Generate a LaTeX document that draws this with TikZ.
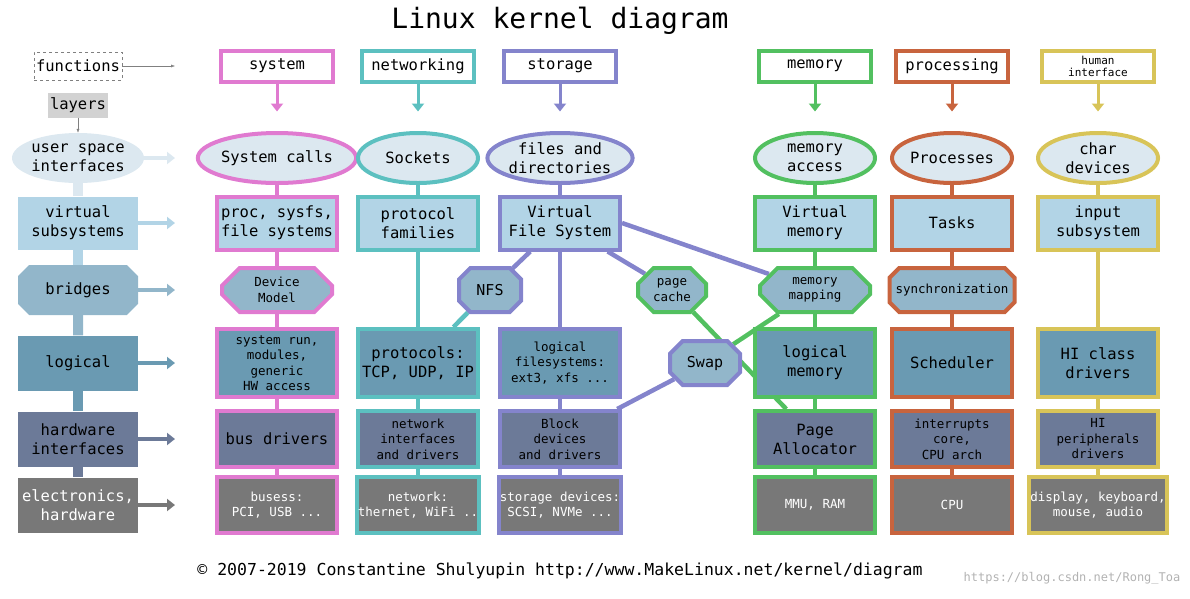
\documentclass[tikz,border=0pt]{standalone}
\usepackage{fontspec}
\setmainfont{DejaVu Sans Mono}
\usetikzlibrary{arrows.meta, positioning, shapes.geometric, shapes.misc, backgrounds}
\definecolor{cSys}{HTML}{E07AD0}
\definecolor{cNet}{HTML}{5CC0C0}
\definecolor{cSto}{HTML}{8484CC}
\definecolor{cMem}{HTML}{52C060}
\definecolor{cPro}{HTML}{C8643E}
\definecolor{cHum}{HTML}{D8C458}
\definecolor{fUsr}{HTML}{DCE8F0}
\definecolor{fVir}{HTML}{B2D4E6}
\definecolor{fBri}{HTML}{92B6CA}
\definecolor{fLog}{HTML}{6A9AB2}
\definecolor{fHw}{HTML}{6C7A98}
\definecolor{fEl}{HTML}{787878}
\begin{document}
\begin{tikzpicture}[x=1pt, y=-1pt,
  font=\fontsize{15.5}{19}\selectfont,
  small/.style={font=\fontsize{12.5}{15.5}\selectfont},
  func/.style={draw=#1, fill=white, line width=4pt, minimum width=112pt, minimum height=31pt, align=center},
  usr/.style={draw=#1, ellipse, fill=fUsr, line width=4pt, minimum width=120pt, minimum height=50pt, inner sep=0pt, align=center},
  vir/.style={draw=#1, fill=fVir, line width=4pt, minimum width=120pt, minimum height=53pt, align=center, inner sep=1pt},
  bri/.style={draw=#1, chamfered rectangle, chamfered rectangle xsep=14pt, fill=fBri, line width=4pt, minimum height=44pt, align=center, inner sep=2pt, small},
  logi/.style={draw=#1, fill=fLog, line width=4pt, minimum width=120pt, minimum height=68pt, align=center, inner sep=1pt},
  hw/.style={draw=#1, fill=fHw, line width=4pt, minimum width=120pt, minimum height=56pt, align=center, inner sep=1pt},
  el/.style={draw=#1, fill=fEl, text=white, line width=4pt, minimum width=120pt, minimum height=56pt, align=center, inner sep=1pt, small},
  lay/.style={minimum width=120pt, align=center, inner sep=0pt},
  link/.style={line width=4.5pt},
  down/.style={line width=3pt, -{Triangle[length=8pt, width=12pt]}},
  side/.style={line width=4pt, -{Triangle[length=8pt, width=12pt]}}
]
\useasboundingbox (0,0) rectangle (1190,598);
\node[font=\fontsize{28}{32}\selectfont] (title) at (560,21) {Linux kernel diagram};
\node[font=\fontsize{16.5}{19}\selectfont] (foot) at (560,571) {© 2007-2019 Constantine Shulyupin http://www.MakeLinux.net/kernel/diagram};
\node[text=gray!60, font=\fontsize{12}{14}\selectfont] (mark) at (1072,578) {https://blog.csdn.net/Rong\_Toa};

% left legend column
\node[draw=gray, dashed, minimum width=88pt, minimum height=28pt, inner sep=0pt] (functions) at (78,66) {functions};
\node[fill=gray!35, minimum width=60pt, minimum height=25pt, inner sep=0pt] (layers) at (78,105) {layers};
\node[lay, ellipse, fill=fUsr, minimum height=50pt] (Lusr) at (78,158) {user space\\interfaces};
\node[lay, fill=fVir, minimum height=53pt] (Lvir) at (78,223) {virtual\\subsystems};
\node[lay, chamfered rectangle, chamfered rectangle xsep=20pt, fill=fBri, minimum height=50pt] (Lbri) at (78,290) {bridges};
\node[lay, fill=fLog, minimum height=55pt] (Llog) at (78,363) {logical};
\node[lay, fill=fHw, minimum height=55pt] (Lhw) at (78,439) {hardware\\interfaces};
\node[lay, fill=fEl, text=white, minimum height=55pt] (Lel) at (78,505) {electronics,\\hardware};
\coordinate (Afun) at (175,66);
\draw[gray, thin, -{Latex[length=4pt]}] (functions) -- (Afun);
\draw[gray, thin, -{Latex[length=4pt]}] (layers) -- (Lusr);
\foreach \n/\c in {Lusr/fUsr, Lvir/fVir, Lbri/fBri, Llog/fLog, Lhw/fHw, Lel/fEl} {
  \coordinate (A\n) at (175,0 |- \n);
  \draw[side, \c] (\n.east |- \n) -- (A\n);
}
\begin{scope}[on background layer]
  \foreach \a/\b/\c in {Lusr/Lvir/fUsr, Lvir/Lbri/fVir, Lbri/Llog/fBri, Llog/Lhw/fLog, Lhw/Lel/fHw}
    \draw[link, \c, line width=10pt] (\a) -- (\b);
\end{scope}

% system
\node[func=cSys] (fSys) at (277,66) {system};
\node[usr=cSys] (callsSys) at (277,158) {System calls};
\node[vir=cSys] (procSys) at (277,223) {proc, sysfs,\\file systems};
\node[bri=cSys, minimum width=110pt] (devSys) at (277,290) {Device\\Model};
\node[logi=cSys, small] (runSys) at (277,363) {system run,\\modules,\\generic\\HW access};
\node[hw=cSys] (busSys) at (277,439) {bus drivers};
\node[el=cSys] (elSys) at (277,505) {busess:\\PCI, USB ...};

% networking
\node[func=cNet] (fNet) at (418,66) {networking};
\node[usr=cNet] (sockNet) at (418,158) {Sockets};
\node[vir=cNet] (famNet) at (418,223) {protocol\\families};
\node[logi=cNet] (protNet) at (418,363) {protocols:\\TCP, UDP, IP};
\node[hw=cNet, small] (ifNet) at (418,439) {network\\interfaces\\and drivers};
\node[el=cNet] (elNet) at (418,505) {network:\\thernet, WiFi ..};

% storage
\node[func=cSto] (fSto) at (560,66) {storage};
\node[usr=cSto] (filesSto) at (560,158) {files and\\directories};
\node[vir=cSto] (vfsSto) at (560,223) {Virtual\\File System};
\node[bri=cSto, minimum width=62pt, font=\fontsize{15}{19}\selectfont] (nfsSto) at (490,290) {NFS};
\node[logi=cSto, small] (lfsSto) at (560,363) {logical\\filesystems:\\ext3, xfs ...};
\node[hw=cSto, small] (blkSto) at (560,439) {Block\\devices\\and drivers};
\node[el=cSto] (elSto) at (560,505) {storage devices:\\SCSI, NVMe ...};
\node[bri=cSto, minimum width=70pt, chamfered rectangle xsep=12pt, font=\fontsize{15}{19}\selectfont] (swapSto) at (705,363) {Swap};

% memory
\node[func=cMem] (fMem) at (815,66) {memory};
\node[usr=cMem] (accMem) at (815,158) {memory\\access};
\node[vir=cMem] (virMem) at (815,223) {Virtual\\memory};
\node[bri=cMem, minimum width=68pt, chamfered rectangle xsep=12pt] (cacheMem) at (672,290) {page\\cache};
\node[bri=cMem, minimum width=110pt] (mapMem) at (815,290) {memory\\mapping};
\node[logi=cMem] (logMem) at (815,363) {logical\\memory};
\node[hw=cMem] (allocMem) at (815,439) {Page\\Allocator};
\node[el=cMem] (elMem) at (815,505) {MMU, RAM};

% processing
\node[func=cPro] (fPro) at (952,66) {processing};
\node[usr=cPro] (procPro) at (952,158) {Processes};
\node[vir=cPro] (taskPro) at (952,223) {Tasks};
\node[bri=cPro, minimum width=110pt, inner sep=0pt] (syncPro) at (952,290) {synchronization};
\node[logi=cPro] (schedPro) at (952,363) {Scheduler};
\node[hw=cPro, small] (irqPro) at (952,439) {interrupts\\core,\\CPU arch};
\node[el=cPro] (elPro) at (952,505) {CPU};

% human interface
\node[func=cHum, font=\fontsize{11}{12}\selectfont] (fHum) at (1098,66) {human\\interface};
\node[usr=cHum] (charHum) at (1098,158) {char\\devices};
\node[vir=cHum] (inHum) at (1098,223) {input\\subsystem};
\node[logi=cHum] (hiHum) at (1098,363) {HI class\\drivers};
\node[hw=cHum, small] (perHum) at (1098,439) {HI\\peripherals\\drivers};
\node[el=cHum] (elHum) at (1098,505) {display, keyboard,\\mouse, audio};

% function arrows
\foreach \f/\c in {fSys/cSys, fNet/cNet, fSto/cSto, fMem/cMem, fPro/cPro, fHum/cHum} {
  \coordinate (A\f) at ([yshift=-28pt]\f.south);
  \draw[down, \c] (\f) -- (A\f);
}

\begin{scope}[on background layer]
  \draw[link, cSys] (callsSys) -- (elSys);
  \draw[link, cNet] (sockNet) -- (elNet);
  \draw[link, cSto] (filesSto) -- (elSto);
  \draw[link, cMem] (accMem) -- (elMem);
  \draw[link, cPro] (procPro) -- (elPro);
  \draw[link, cHum] (charHum) -- (elHum);
  % cross links
  \draw[link, cSto] (vfsSto) -- (nfsSto);
  \draw[link, cNet] (nfsSto) -- (protNet);
  \draw[link, cSto] (vfsSto) -- (cacheMem);
  \draw[link, cSto] (vfsSto.east) -- (mapMem);
  \draw[link, cMem] (cacheMem) -- (allocMem);
  \draw[link, cMem] (mapMem) -- (swapSto);
  \draw[link, cSto] (swapSto) -- (blkSto);
\end{scope}
\end{tikzpicture}
\end{document}
